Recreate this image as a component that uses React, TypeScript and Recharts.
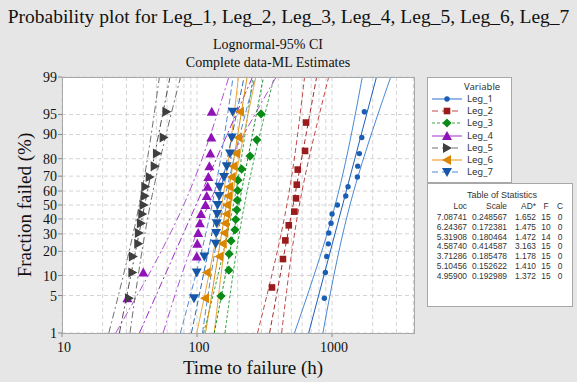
import React from "react";
import { ScatterChart, Scatter, XAxis, YAxis, CartesianGrid } from "recharts";

// fitted parameters from the Table of Statistics
const seriesNames = ["Leg_1", "Leg_2", "Leg_3", "Leg_4", "Leg_5", "Leg_6", "Leg_7"];
const locValues = [7.08741, 6.24367, 5.31908, 4.5874, 3.71286, 5.10456, 4.959];
const scaleValues = [0.248567, 0.172381, 0.180464, 0.414587, 0.185478, 0.152622, 0.192989];
const adValues = ["1.652", "1.475", "1.472", "3.163", "1.178", "1.410", "1.372"];
const failCounts = [15, 10, 14, 15, 15, 15, 15];
const censCounts = [0, 0, 0, 0, 0, 0, 0];

// plotting positions (% failed) for 15, 14 and 10 failures
const pct15 = [4.5, 11.0, 17.5, 24.0, 30.5, 37.0, 43.5, 50.0, 56.5, 63.0, 69.5, 76.0, 82.5, 89.0, 95.5];
const pct14 = [4.9, 11.8, 18.7, 25.7, 32.6, 39.6, 46.5, 53.5, 60.4, 67.4, 74.3, 81.3, 88.2, 95.1];
const pct10 = [6.7, 16.3, 26.0, 35.6, 45.2, 54.8, 64.4, 74.0, 83.7, 93.3];

// failure times (h)
const leg1Times = [877, 892, 913, 939, 945, 983, 1000, 1095, 1263, 1313, 1540, 1550, 1593, 1660, 1735];
const leg2Times = [359, 433, 451, 478, 526, 541, 548, 557, 631, 642];
const leg3Times = [150.6, 172, 173, 178.6, 191, 193.5, 197, 199, 200, 201, 214, 247, 277, 298];
const leg4Times = [30.5, 40.0, 99.5, 100.5, 102, 105, 107, 115.6, 118, 120, 121.3, 123.4, 125.5, 127.6, 128.5];
const leg5Times = [31.3, 33.2, 33.5, 36.7, 37.1, 38.4, 39.3, 40.2, 41.0, 41.4, 44.6, 48.6, 50.5, 56.6, 59.3];
const leg6Times = [114.6, 118, 146.3, 155, 159.3, 161.2, 165.5, 166.5, 170.6, 173.5, 180.7, 185.8, 194.5, 202.3, 208.2];
const leg7Times = [95, 99.5, 113.3, 137.5, 138.5, 139.9, 141, 142, 146, 146.5, 158.5, 166, 175.6, 180.7, 183.8];

const allTimes = [leg1Times, leg2Times, leg3Times, leg4Times, leg5Times, leg6Times, leg7Times];
const allPct = [pct15, pct10, pct14, pct15, pct15, pct15, pct15];

const xGridTicks = [10, 20, 30, 40, 50, 60, 70, 80, 90, 100, 200, 300, 400, 500, 600, 700, 800, 900, 1000, 2000, 3000, 4000];
const xLabelTicks = [10, 100, 1000];
const yTickPct = [1, 5, 10, 20, 30, 40, 50, 60, 70, 80, 90, 95, 99];

const markerColors = ["#1a5fb4", "#9a1b1b", "#0a8a16", "#9013b8", "#3f3f3f", "#d98500", "#1557a6"];
const lineColors = ["#4a88d4", "#c04848", "#3aa548", "#b050d4", "#707070", "#eba63a", "#4f8ad0"];
const fitColors = ["#1f5fb8", "#a52828", "#1c8f2a", "#9a2cc4", "#505050", "#de9010", "#2a6ab8"];
const dashes = ["", "5 3", "3 2", "8 3 2 3", "7 3 2 3", "", "6 3"];
const legendDashes = ["", "6 4", "3 2", "", "6 4", "", "6 4"];
const markerKinds = ["circle", "square", "diamond", "up", "right", "left", "down"];

function probit(p: number): number {
  const a = [-39.69683028665376, 220.9460984245205, -275.9285104469687, 138.357751867269, -30.66479806614716, 2.506628277459239];
  const b = [-54.47609879822406, 161.5858368580409, -155.6989798598866, 66.80131188771972, -13.28068155288572];
  const c = [-0.007784894002430293, -0.3223964580411365, -2.400758277161838, -2.549732539343734, 4.374664141464968, 2.938163982698783];
  const d = [0.007784695709041462, 0.3224671290700398, 2.445134137142996, 3.754408661907416];
  const tail = (q: number) =>
    (((((c[0] * q + c[1]) * q + c[2]) * q + c[3]) * q + c[4]) * q + c[5]) /
    ((((d[0] * q + d[1]) * q + d[2]) * q + d[3]) * q + 1);
  if (p < 0.02425) return tail(Math.sqrt(-2 * Math.log(p)));
  if (p > 1 - 0.02425) return -tail(Math.sqrt(-2 * Math.log(1 - p)));
  const q = p - 0.5;
  const r = q * q;
  return (
    ((((((a[0] * r + a[1]) * r + a[2]) * r + a[3]) * r + a[4]) * r + a[5]) * q) /
    (((((b[0] * r + b[1]) * r + b[2]) * r + b[3]) * r + b[4]) * r + 1)
  );
}

const Z_MIN = probit(0.01);
const Z_MAX = probit(0.99);
const yTicks = yTickPct.map((p) => probit(p / 100));

// fitted line and 95% CI of the percentiles, from Loc / Scale / F
function fitLine(i: number) {
  return [Z_MIN, Z_MAX].map((z) => ({ t: Math.exp(locValues[i] + scaleValues[i] * z), z }));
}
function ciLine(i: number, sign: number) {
  const n = failCounts[i];
  const s = scaleValues[i];
  const pts = [];
  for (let k = 0; k <= 24; k++) {
    const z = Z_MIN + ((Z_MAX - Z_MIN) * k) / 24;
    const se = s * Math.sqrt(1 / n + (z * z) / (2 * n));
    pts.push({ t: Math.exp(locValues[i] + s * z + sign * 1.96 * se), z });
  }
  return pts;
}

function Marker({ cx, cy, kind, color }: any) {
  if (cx == null || cy == null) return <g />;
  switch (kind) {
    case "circle":
      return <circle cx={cx} cy={cy} r={2.7} fill={color} />;
    case "square":
      return <rect x={cx - 3.3} y={cy - 3.3} width={6.6} height={6.6} fill={color} />;
    case "diamond":
      return <polygon points={`${cx},${cy - 4.6} ${cx + 4.6},${cy} ${cx},${cy + 4.6} ${cx - 4.6},${cy}`} fill={color} />;
    case "up":
      return <polygon points={`${cx},${cy - 5} ${cx + 5},${cy + 4} ${cx - 5},${cy + 4}`} fill={color} />;
    case "down":
      return <polygon points={`${cx - 5},${cy - 4} ${cx + 5},${cy - 4} ${cx},${cy + 5}`} fill={color} />;
    case "right":
      return <polygon points={`${cx - 4},${cy - 5} ${cx + 5},${cy} ${cx - 4},${cy + 5}`} fill={color} />;
    case "left":
      return <polygon points={`${cx + 4},${cy - 5} ${cx - 5},${cy} ${cx + 4},${cy + 5}`} fill={color} />;
  }
  return <g />;
}

const serif = "'Liberation Serif', 'Times New Roman', serif";
const sans = "'Noto Sans', 'Open Sans', sans-serif";
const tableFont = "'Liberation Sans', Arial, sans-serif";

function XTick({ x, payload }: any) {
  if (!xLabelTicks.includes(payload.value)) return <g />;
  return (
    <g>
      <line x1={x} x2={x} y1={333} y2={337} stroke="#888" />
      <text x={x + 2} y={352} textAnchor="middle" fontFamily={serif} fontSize={14} fill="#111">
        {payload.value}
      </text>
    </g>
  );
}

function YTick({ y, index }: any) {
  return (
    <g>
      <line x1={58} x2={62} y1={y} y2={y} stroke="#888" />
      <text x={57} y={y + 5} textAnchor="end" fontFamily={serif} fontSize={14} fill="#111">
        {yTickPct[index]}
      </text>
    </g>
  );
}

// table columns: right edges (px inside the box) and centres for F / C
const colRight = [39, 79, 108];
const colCenter = [118, 132];

export default function App() {
  const noShape = () => <g />;
  return (
    <div style={{ position: "relative", width: 577, height: 382, background: "#e6e6e6", fontFamily: serif, overflow: "hidden" }}>
      <style>{"body{margin:0}"}</style>
      <div style={{ position: "absolute", left: 0, top: 6, width: 577, textAlign: "center", fontSize: 19.5, color: "#111", fontFamily: serif }}>
        Probability plot for Leg_1, Leg_2, Leg_3, Leg_4, Leg_5, Leg_6, Leg_7
      </div>
      <div style={{ position: "absolute", left: 168, top: 37, width: 200, textAlign: "center", fontSize: 14, color: "#111", fontFamily: serif }}>
        Lognormal-95% CI
      </div>
      <div style={{ position: "absolute", left: 128, top: 55, width: 280, textAlign: "center", fontSize: 14, color: "#111", fontFamily: serif }}>
        Complete data-ML Estimates
      </div>

      <ScatterChart width={577} height={382} margin={{ top: 77, right: 163, bottom: 0, left: 0 }} style={{ position: "absolute", left: 0, top: 0 }}>
        <CartesianGrid fill="#ffffff" stroke="#d4d4d4" strokeDasharray="4 3" />
        <XAxis
          type="number"
          dataKey="t"
          scale="log"
          domain={[10, 4045]}
          allowDataOverflow
          ticks={xGridTicks}
          interval={0}
          height={49}
          axisLine={false}
          tickLine={false}
          tick={<XTick />}
        />
        <YAxis
          type="number"
          dataKey="z"
          domain={[Z_MIN, Z_MAX]}
          allowDataOverflow
          ticks={yTicks}
          interval={0}
          width={62}
          axisLine={false}
          tickLine={false}
          tick={<YTick />}
        />
        {seriesNames.map((name, i) => (
          <Scatter
            key={name + "-lo"}
            data={ciLine(i, -1)}
            fill={lineColors[i]}
            line={{ stroke: lineColors[i], strokeWidth: 1, strokeDasharray: dashes[i] }}
            shape={noShape}
            isAnimationActive={false}
          />
        ))}
        {seriesNames.map((name, i) => (
          <Scatter
            key={name + "-hi"}
            data={ciLine(i, 1)}
            fill={lineColors[i]}
            line={{ stroke: lineColors[i], strokeWidth: 1, strokeDasharray: dashes[i] }}
            shape={noShape}
            isAnimationActive={false}
          />
        ))}
        {seriesNames.map((name, i) => (
          <Scatter
            key={name + "-fit"}
            data={fitLine(i)}
            fill={fitColors[i]}
            line={{ stroke: fitColors[i], strokeWidth: 1, strokeDasharray: dashes[i] }}
            shape={noShape}
            isAnimationActive={false}
          />
        ))}
        {seriesNames.map((name, i) => (
          <Scatter
            key={name}
            name={name}
            data={allTimes[i].map((t, k) => ({ t, z: probit(allPct[i][k] / 100) }))}
            fill={markerColors[i]}
            shape={(p: any) => <Marker {...p} kind={markerKinds[i]} color={markerColors[i]} />}
            isAnimationActive={false}
          />
        ))}
      </ScatterChart>

      <div style={{ position: "absolute", left: 62, top: 77, width: 351, height: 255, border: "1px solid #a8a8a8", pointerEvents: "none" }} />

      <div style={{ position: "absolute", left: 6, top: 205, width: 0, height: 0 }}>
        <div style={{ position: "absolute", left: -80, top: -12, width: 200, textAlign: "center", fontSize: 19, color: "#111", fontFamily: serif, transform: "rotate(-90deg)", transformOrigin: "100px 12px", whiteSpace: "nowrap" }}>
          Fraction failed (%)
        </div>
      </div>
      <div style={{ position: "absolute", left: 153, top: 357, width: 200, textAlign: "center", fontSize: 19, color: "#111", fontFamily: serif }}>
        Time to failure (h)
      </div>

      <div style={{ position: "absolute", left: 427, top: 77, width: 83, height: 104, background: "#fff", border: "1px solid #a8a8a8", fontFamily: sans, fontSize: 9.5, color: "#333" }}>
        <div style={{ position: "absolute", left: 36, top: 2 }}>Variable</div>
        {seriesNames.map((name, i) => (
          <div key={name} style={{ position: "absolute", left: 3, top: 15 + i * 12.2, height: 12, width: 80 }}>
            <svg width={32} height={12} style={{ position: "absolute", left: 0, top: 0 }}>
              <line x1={1} x2={31} y1={6} y2={6} stroke={lineColors[i]} strokeWidth={1.2} strokeDasharray={legendDashes[i]} />
              <Marker cx={16} cy={6} kind={markerKinds[i]} color={markerColors[i]} />
            </svg>
            <span style={{ position: "absolute", left: 36, top: -1 }}>{name}</span>
          </div>
        ))}
      </div>

      <div style={{ position: "absolute", left: 427, top: 183, width: 144, height: 122, background: "#fff", border: "1px solid #a8a8a8", fontFamily: tableFont, fontSize: 8.4, color: "#333", lineHeight: "9px" }}>
        <div style={{ position: "absolute", left: 0, width: 148, top: 7, textAlign: "center", fontSize: 9 }}>Table of Statistics</div>
        {["Loc", "Scale", "AD*"].map((h, c) => (
          <div key={h} style={{ position: "absolute", right: 144 - colRight[c], top: 18 }}>{h}</div>
        ))}
        {["F", "C"].map((h, c) => (
          <div key={h} style={{ position: "absolute", left: colCenter[c] - 6, width: 12, textAlign: "center", top: 18 }}>{h}</div>
        ))}
        {seriesNames.map((name, i) => (
          <div key={name} style={{ position: "absolute", left: 0, top: 29 + i * 9.8, width: 144, height: 9 }}>
            <span style={{ position: "absolute", right: 144 - colRight[0] }}>{locValues[i].toFixed(5)}</span>
            <span style={{ position: "absolute", right: 144 - colRight[1] }}>{scaleValues[i].toFixed(6)}</span>
            <span style={{ position: "absolute", right: 144 - colRight[2] }}>{adValues[i]}</span>
            <span style={{ position: "absolute", left: colCenter[0] - 6, width: 12, textAlign: "center" }}>{failCounts[i]}</span>
            <span style={{ position: "absolute", left: colCenter[1] - 6, width: 12, textAlign: "center" }}>{censCounts[i]}</span>
          </div>
        ))}
      </div>
    </div>
  );
}
